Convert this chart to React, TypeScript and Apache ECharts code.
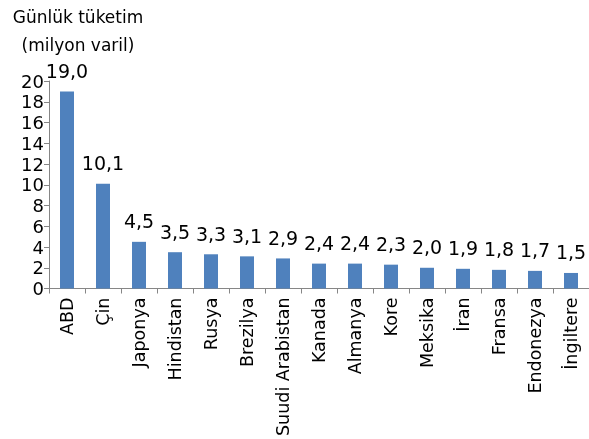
import React, { useEffect, useRef } from "react";
import * as echarts from "echarts";

const countries = ["ABD", "Çin", "Japonya", "Hindistan", "Rusya", "Brezilya", "Suudi Arabistan", "Kanada", "Almanya", "Kore", "Meksika", "İran", "Fransa", "Endonezya", "İngiltere"];
const consumption = [19.0, 10.1, 4.5, 3.5, 3.3, 3.1, 2.9, 2.4, 2.4, 2.3, 2.0, 1.9, 1.8, 1.7, 1.5];
const titleLines = ["Günlük tüketim", "(milyon varil)"];

const FONT = "DejaVu Sans";

export default function App() {
  const ref = useRef<HTMLDivElement>(null);
  useEffect(() => {
    if (!ref.current) return;
    const chart = echarts.init(ref.current, null, { renderer: "svg" });
    chart.setOption({
      animation: false,
      textStyle: { fontFamily: FONT },
      graphic: [
        { type: "text", x: 78, y: 17, style: { text: titleLines[0], fontFamily: FONT, fontSize: 17, fill: "#000", textAlign: "center", textVerticalAlign: "middle" } },
        { type: "text", x: 78, y: 45, style: { text: titleLines[1], fontFamily: FONT, fontSize: 17, fill: "#000", textAlign: "center", textVerticalAlign: "middle" } },
      ],
      grid: { left: 49, right: 0, top: 81, bottom: 149, containLabel: false },
      xAxis: {
        type: "category",
        data: countries,
        axisLine: { lineStyle: { color: "#868686", width: 1 } },
        axisTick: { show: true, length: 5, lineStyle: { color: "#868686" } },
        axisLabel: { interval: 0, rotate: 90, fontSize: 17.5, color: "#000", fontFamily: FONT, margin: 9 },
      },
      yAxis: {
        type: "value",
        min: 0,
        max: 20,
        interval: 2,
        splitLine: { show: false },
        axisLine: { show: true, lineStyle: { color: "#868686", width: 1 } },
        axisTick: { show: true, length: 5, lineStyle: { color: "#868686" } },
        axisLabel: { fontSize: 18, color: "#000", fontFamily: FONT, margin: 5 },
      },
      series: [
        {
          type: "bar",
          data: consumption,
          barWidth: 14,
          itemStyle: { color: "#4F81BD" },
          label: {
            show: true,
            position: "top",
            distance: 11,
            fontSize: 19,
            color: "#000",
            fontFamily: FONT,
            formatter: (p: any) => Number(p.value).toFixed(1).replace(".", ","),
          },
        },
      ],
    });
    return () => chart.dispose();
  }, []);
  return <div ref={ref} style={{ position: "fixed", left: 0, top: 0, width: 589, height: 439 }} />;
}
